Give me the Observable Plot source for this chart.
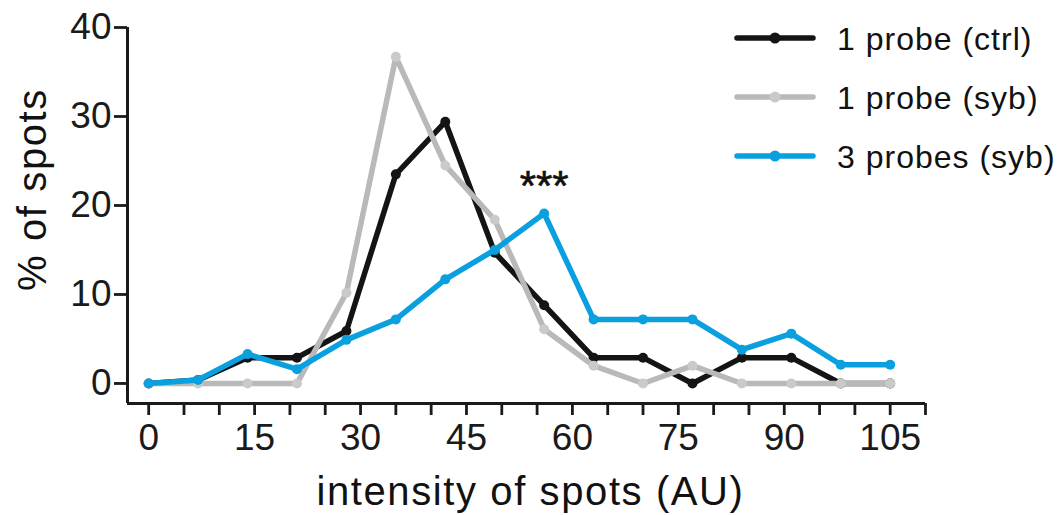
<!DOCTYPE html>
<html>
<head>
<meta charset="utf-8">
<script src="https://cdn.jsdelivr.net/npm/d3@7"></script>
<script src="https://cdn.jsdelivr.net/npm/@observablehq/plot@0.6"></script>
<style>
  body { margin: 0; background: #fff; }
  #wrap { position: relative; width: 1064px; height: 515px; overflow: hidden; }
  #legend { position: absolute; left: 0; top: 0; }
  svg text { font-family: "Liberation Sans", Arial, Helvetica, sans-serif; }
</style>
</head>
<body>
<div id="wrap"></div>
<script>
// ---- data ----
const intensity = [0, 7, 14, 21, 28, 35, 42, 49, 56, 63, 70, 77, 84, 91, 98, 105];
const seriesNames = ["1 probe (ctrl)", "1 probe (syb)", "3 probes (syb)"];
const ctrl1 = [0, 0.4, 2.9, 2.9, 5.9, 23.5, 29.4, 14.7, 8.8, 2.9, 2.9, 0, 2.9, 2.9, 0, 0];
const syb1  = [0, 0, 0, 0, 10.2, 36.7, 24.5, 18.4, 6.1, 2.0, 0, 2.0, 0, 0, 0, 0];
const syb3  = [0, 0.4, 3.3, 1.6, 4.9, 7.2, 11.7, 15.0, 19.1, 7.2, 7.2, 7.2, 3.8, 5.6, 2.1, 2.1];
const seriesValues = [ctrl1, syb1, syb3];
const lineColors = ["#141414", "#b9b9b9", "#0aa0e0"];
const dotColors  = ["#141414", "#cacaca", "#0aa0e0"];
const yTicks = [0, 10, 20, 30, 40];
const xTicks = [0, 5, 10, 15, 20, 25, 30, 35, 40, 45, 50, 55, 60, 65, 70, 75, 80, 85, 90, 95, 100, 105, 110];
const xTickLabels = [0, 15, 30, 45, 60, 75, 90, 105];
const xLabel = "intensity of spots (AU)";
const yLabel = "% of spots";
const annotations = [{x: 56, y: 24, text: "***"}];

// ---- build table ----
const rows = seriesNames.map((name, i) =>
  intensity.map((x, j) => ({series: name, x, y: seriesValues[i][j]})));

const ink = "#1a1a1a";
const marks = [
  Plot.ruleX([-3], {y1: -2.25, y2: 40, stroke: ink, strokeWidth: 3}),
  Plot.ruleY([-2.25], {x1: -3, x2: 110, stroke: ink, strokeWidth: 3}),
  Plot.axisY({ticks: yTicks, tickSize: 13, tickPadding: 3, fontSize: 37, label: null,
              color: ink, strokeWidth: 2.8}),
  Plot.axisX({ticks: xTicks, tickSize: 12, tickPadding: 8, fontSize: 37, label: null,
              color: ink, strokeWidth: 2.8,
              tickFormat: d => xTickLabels.includes(d) ? String(d) : ""})
];
rows.forEach((data, i) => {
  marks.push(Plot.line(data, {x: "x", y: "y", stroke: lineColors[i], strokeWidth: 5.5,
                              strokeLinejoin: "round", strokeLinecap: "round"}));
  marks.push(Plot.dot(data, {x: "x", y: "y", r: 5, fill: dotColors[i], stroke: "none"}));
});
marks.push(Plot.text(annotations, {x: "x", y: "y", text: "text", fontSize: 42,
                                   lineAnchor: "top", fill: "#111", stroke: "#111", strokeWidth: 0.6}));
marks.push(Plot.text([xLabel], {text: d => d, frameAnchor: "bottom", dy: 89, dx: 4,
                                fontSize: 40, lineAnchor: "middle", fill: "#111"}));
marks.push(Plot.text([yLabel], {text: d => d, frameAnchor: "left", rotate: -90, dx: -94, dy: -26,
                                fontSize: 40, lineAnchor: "middle", textAnchor: "middle", fill: "#111"}));

const plot = Plot.plot({
  width: 1064, height: 515,
  marginLeft: 127, marginRight: 139, marginTop: 27, marginBottom: 112,
  x: {domain: [-3, 110]},
  y: {domain: [-2.25, 40]},
  style: {fontFamily: "Liberation Sans, Arial, sans-serif", background: "#fff", overflow: "visible"},
  marks
});
d3.select(plot).selectAll("text")
  .filter(function() { return this.textContent === xLabel || this.textContent === yLabel; })
  .style("letter-spacing", "1.6px");
document.getElementById("wrap").appendChild(plot);

// ---- legend ----
const leg = d3.select("#wrap").append("svg").attr("id", "legend")
  .attr("width", 1064).attr("height", 515);
const item = leg.selectAll("g").data(seriesNames).join("g")
  .attr("transform", (d, i) => `translate(0, ${38 + i * 59})`);
item.append("line").attr("x1", 737).attr("x2", 813).attr("y1", 0).attr("y2", 0)
  .attr("stroke", (d, i) => lineColors[i]).attr("stroke-width", 5.5).attr("stroke-linecap", "round");
item.append("circle").attr("cx", 775).attr("cy", 0).attr("r", 5.5)
  .attr("fill", (d, i) => dotColors[i]);
item.append("text").attr("x", 837).attr("y", 0).attr("dy", "0.36em")
  .attr("font-size", 32).attr("fill", "#111").style("letter-spacing", "1px")
  .text(d => d);
</script>
</body>
</html>
